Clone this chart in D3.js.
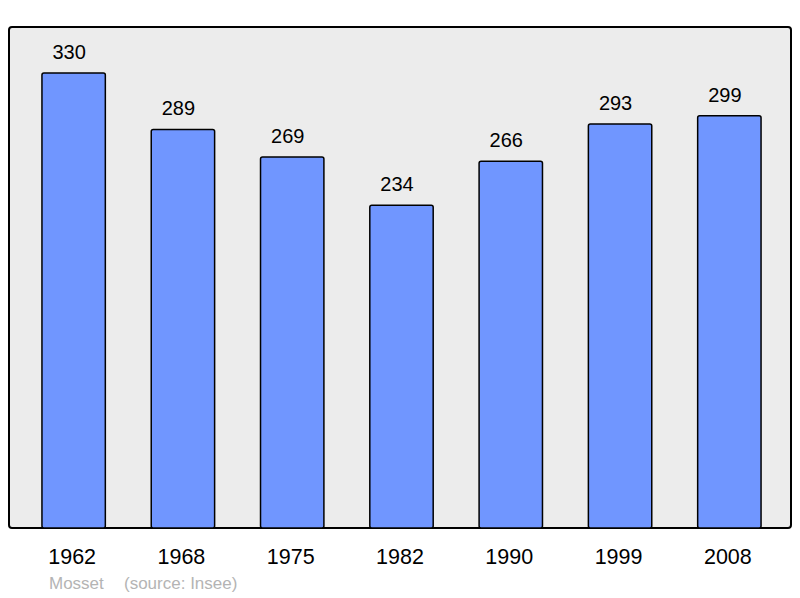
<!DOCTYPE html>
<html><head><meta charset="utf-8">
<script src="https://cdn.jsdelivr.net/npm/d3@7"></script>
<style>body{margin:0;background:#fff}svg{display:block}</style>
</head><body>
<svg id="c" width="800" height="598"></svg>
<script>
const years = ["1962","1968","1975","1982","1990","1999","2008"];
const population = [330,289,269,234,266,293,299];
const commune = "Mosset";
const sourceText = "(source: Insee)";

const svg = d3.select("#c");
const font = "Liberation Sans, Arial, sans-serif";
const panel = {x0: 9, x1: 791, y0: 27, y1: 528};

svg.append("rect").attr("x", panel.x0).attr("y", panel.y0)
  .attr("width", panel.x1 - panel.x0).attr("height", panel.y1 - panel.y0)
  .attr("rx", 3).attr("fill", "#ececec").attr("stroke", "#000").attr("stroke-width", 2);

const x = d3.scaleBand().domain(years).range([19, 784]).paddingInner(0.42).paddingOuter(0.21);
const y = d3.scaleLinear().domain([0, 363.3]).range([panel.y1, panel.y0]);

const data = years.map((yr, i) => ({yr, v: population[i]}));

svg.selectAll("rect.bar").data(data).join("rect").attr("class", "bar")
  .attr("x", d => x(d.yr)).attr("y", d => y(d.v))
  .attr("width", x.bandwidth()).attr("height", d => y(0) - y(d.v))
  .attr("rx", 2).attr("fill", "#7096ff").attr("stroke", "#000").attr("stroke-width", 1.5);

svg.selectAll("text.val").data(data).join("text").attr("class", "val")
  .attr("x", d => x(d.yr) + x.bandwidth() / 2 - 4.5).attr("y", d => y(d.v) - 14)
  .attr("text-anchor", "middle").attr("font-family", font).attr("font-size", 20)
  .attr("fill", "#000").text(d => d.v);

svg.selectAll("text.yr").data(years).join("text").attr("class", "yr")
  .attr("x", d => x(d) + x.bandwidth() / 2 - 1.5).attr("y", 564)
  .attr("text-anchor", "middle").attr("font-family", font).attr("font-size", 21.5)
  .attr("fill", "#000").text(d => d);

svg.append("text").attr("x", 49).attr("y", 589).attr("font-family", font)
  .attr("font-size", 17).attr("fill", "#b4b4b4").text(commune);
svg.append("text").attr("x", 124).attr("y", 589).attr("font-family", font)
  .attr("font-size", 17).attr("fill", "#b4b4b4").text(sourceText);
</script>
</body></html>
